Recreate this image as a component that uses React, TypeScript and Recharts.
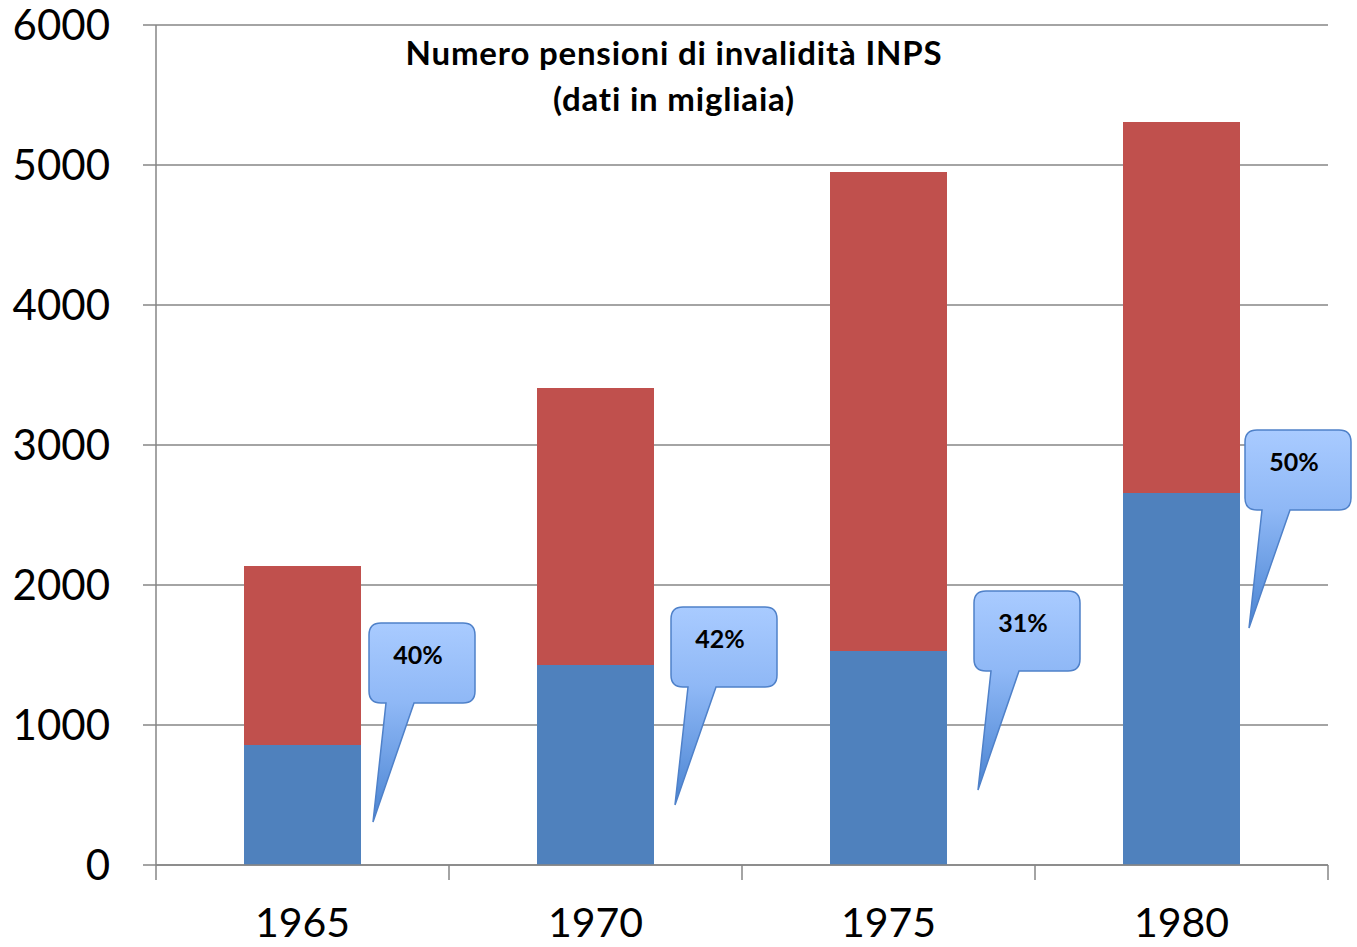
import { BarChart, Bar, XAxis, YAxis, CartesianGrid, LabelList } from "recharts";

const YEARS = ["1965", "1970", "1975", "1980"];
// pensioni di invalidità (blu) e resto del totale (rosso), migliaia
const INVALIDITA = [857, 1429, 1529, 2657];
const ALTRE = [1279, 1978, 3421, 2650];
const QUOTA = ["40%", "42%", "31%", "50%"];
const Y_TICKS = [0, 1000, 2000, 3000, 4000, 5000, 6000];

// callout anchors in data units (box top, tip) + horizontal offset from bar edge
const CALLOUT_TOP = [1729, 1843, 1957, 3107];
const CALLOUT_TIP = [307, 429, 536, 1693];
const CALLOUT_DX = [8, 17, 27, 5];

const W = 1357;
const H = 947;
const M = { top: 25, right: 29, left: 0, bottom: 0 };
const Y_AXIS_W = 156;
const BAND = (W - M.left - M.right - Y_AXIS_W) / YEARS.length;

const GRID = "#868686";
const FONT = "Lato, 'Open Sans', sans-serif";

const data = YEARS.map((year, i) => ({
  year,
  invalidita: INVALIDITA[i],
  altre: ALTRE[i],
}));

function XTick(props: any) {
  const { x, y, payload, index } = props;
  const left = x - BAND / 2;
  return (
    <g>
      <line x1={left} x2={left} y1={y} y2={y + 15} stroke={GRID} strokeWidth={1.5} />
      {index === YEARS.length - 1 && (
        <line x1={left + BAND} x2={left + BAND} y1={y} y2={y + 15} stroke={GRID} strokeWidth={1.5} />
      )}
      <text x={x} y={y + 72} textAnchor="middle" fontSize={41} fill="#000" fontFamily={FONT}>
        {payload.value}
      </text>
    </g>
  );
}

function Callout(props: any) {
  const { x, y, width, height, index } = props;
  const base = y + height;
  const ppu = height / INVALIDITA[index];
  const toY = (v: number) => base - v * ppu;
  const l = x + width + CALLOUT_DX[index];
  const t = toY(CALLOUT_TOP[index]);
  const w = 106;
  const h = 80;
  const r = 12;
  const tipX = l + 4;
  const tipY = toY(CALLOUT_TIP[index]);
  const d = `M ${l + r} ${t} H ${l + w - r} Q ${l + w} ${t} ${l + w} ${t + r} V ${t + h - r} Q ${l + w} ${t + h} ${l + w - r} ${t + h} H ${l + 45} L ${tipX} ${tipY} L ${l + 17} ${t + h} H ${l + r} Q ${l} ${t + h} ${l} ${t + h - r} V ${t + r} Q ${l} ${t} ${l + r} ${t} Z`;
  return (
    <g>
      <path d={d} fill="url(#calloutFill)" stroke="#4f81c9" strokeWidth={1.5} />
      <text x={l + 49} y={t + 31} textAnchor="middle" dominantBaseline="central" fontSize={25} fontWeight={700} fontFamily={FONT} fill="#000">
        {QUOTA[index]}
      </text>
    </g>
  );
}

export default function App() {
  return (
    <div style={{ position: "absolute", left: 0, top: 0, width: W, height: H, background: "#fff" }}>
      <BarChart width={W} height={H} data={data} margin={M} barSize={117}>
        <defs>
          <linearGradient id="calloutFill" x1="0" y1="0" x2="0" y2="1">
            <stop offset="0%" stopColor="#a9cbff" />
            <stop offset="40%" stopColor="#8fb8f6" />
            <stop offset="100%" stopColor="#4a84d2" />
          </linearGradient>
        </defs>
        <CartesianGrid vertical={false} stroke={GRID} strokeWidth={1.5} />
        <XAxis
          dataKey="year"
          height={82}
          axisLine={{ stroke: GRID, strokeWidth: 1.5 }}
          tickLine={false}
          tickSize={0}
          tickMargin={0}
          tick={<XTick />}
          interval={0}
        />
        <YAxis
          domain={[0, 6000]}
          ticks={Y_TICKS}
          width={Y_AXIS_W}
          axisLine={{ stroke: GRID, strokeWidth: 1.5 }}
          tickLine={{ stroke: GRID, strokeWidth: 1.5 }}
          tickSize={13}
          tickMargin={33}
          tick={{ fill: "#000", fontSize: 42, fontFamily: FONT }}
        />
        <Bar dataKey="invalidita" stackId="a" fill="#4f81bd" isAnimationActive={false}>
          <LabelList dataKey="invalidita" content={<Callout />} />
        </Bar>
        <Bar dataKey="altre" stackId="a" fill="#c0504d" isAnimationActive={false} />
        <text x={674} y={52} textAnchor="middle" dominantBaseline="central" fontSize={33} letterSpacing={0.8} fontWeight={700} fontFamily={FONT} fill="#000">
          Numero pensioni di invalidità INPS
        </text>
        <text x={674} y={98} textAnchor="middle" dominantBaseline="central" fontSize={33} letterSpacing={0.8} fontWeight={700} fontFamily={FONT} fill="#000">
          (dati in migliaia)
        </text>
      </BarChart>
    </div>
  );
}
